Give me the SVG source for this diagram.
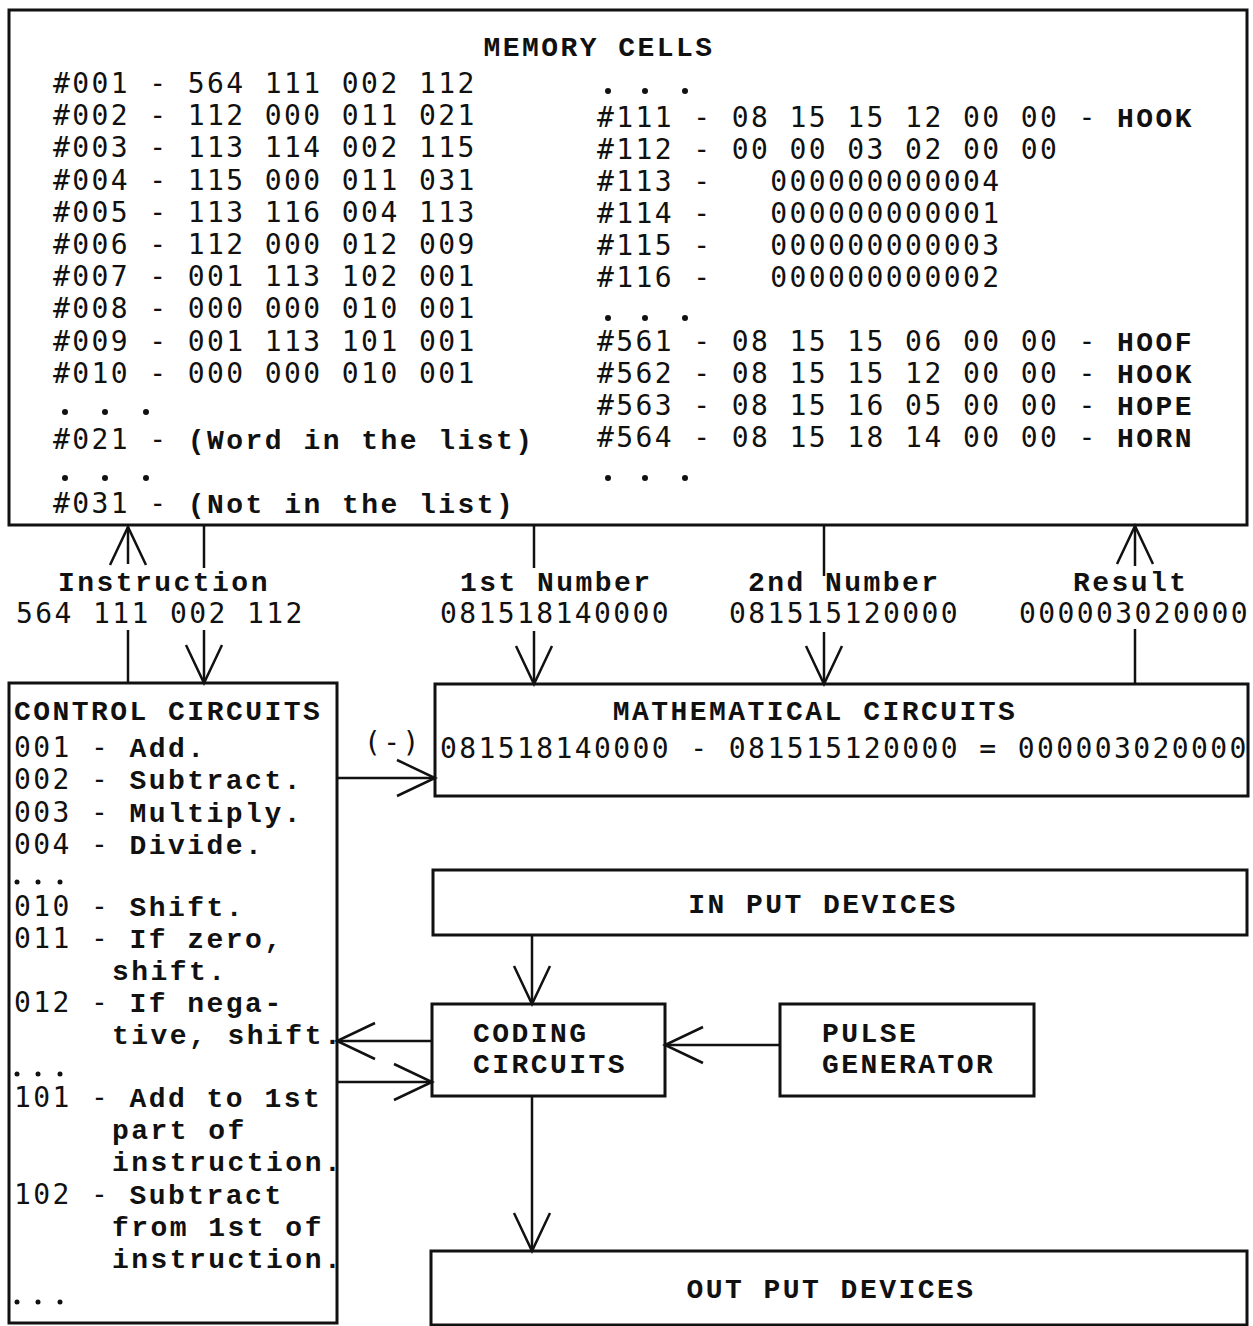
<svg xmlns="http://www.w3.org/2000/svg" width="1253" height="1326" viewBox="0 0 1253 1326">
<style>
.t{font-family:"DejaVu Sans Mono","Liberation Mono",monospace;font-size:28px;letter-spacing:2.4px;fill:#111;white-space:pre}
.b{font-family:"Liberation Mono","DejaVu Sans Mono",monospace;font-size:28px;letter-spacing:2.46px;font-weight:bold;fill:#111;white-space:pre}
.box{fill:#fff;stroke:#111;stroke-width:3}
.ln{stroke:#111;stroke-width:2.5;fill:none}
.dot{fill:#111}
</style>
<defs>
<marker id="ah" markerUnits="userSpaceOnUse" markerWidth="44" markerHeight="44" refX="38" refY="18" orient="auto" overflow="visible">
<path d="M0,0 L38,18 L0,36" fill="none" stroke="#111" stroke-width="2.5"/>
</marker>
<clipPath id="mclip"><rect x="435" y="684" width="813" height="112"/></clipPath>
</defs>
<rect width="1253" height="1326" fill="#fff"/>

<g id="memory">
<rect class="box" x="9" y="10" width="1238" height="515"/>
<text class="b" x="599" y="56" text-anchor="middle">MEMORY CELLS</text>
<text class="t" x="53" y="93">#001 - 564 111 002 112</text>
<text class="t" x="53" y="125">#002 - 112 000 011 021</text>
<text class="t" x="53" y="157">#003 - 113 114 002 115</text>
<text class="t" x="53" y="190">#004 - 115 000 011 031</text>
<text class="t" x="53" y="222">#005 - 113 116 004 113</text>
<text class="t" x="53" y="254">#006 - 112 000 012 009</text>
<text class="t" x="53" y="286">#007 - 001 113 102 001</text>
<text class="t" x="53" y="318">#008 - 000 000 010 001</text>
<text class="t" x="53" y="351">#009 - 001 113 101 001</text>
<text class="t" x="53" y="383">#010 - 000 000 010 001</text>
<circle class="dot" cx="65" cy="412" r="3"/><circle class="dot" cx="105" cy="412" r="3"/><circle class="dot" cx="146" cy="412" r="3"/>
<text class="t" x="53" y="449">#021 - <tspan class="b">(Word in the list)</tspan></text>
<circle class="dot" cx="65" cy="478" r="3"/><circle class="dot" cx="105" cy="478" r="3"/><circle class="dot" cx="146" cy="478" r="3"/>
<text class="t" x="53" y="513">#031 - <tspan class="b">(Not in the list)</tspan></text>

<circle class="dot" cx="608" cy="91" r="3"/><circle class="dot" cx="645" cy="91" r="3"/><circle class="dot" cx="685" cy="91" r="3"/>
<text class="t" x="597" y="127">#111 - 08 15 15 12 00 00 - <tspan class="b">HOOK</tspan></text>
<text class="t" x="597" y="159">#112 - 00 00 03 02 00 00</text>
<text class="t" x="597" y="191">#113 -   000000000004</text>
<text class="t" x="597" y="223">#114 -   000000000001</text>
<text class="t" x="597" y="255">#115 -   000000000003</text>
<text class="t" x="597" y="287">#116 -   000000000002</text>
<circle class="dot" cx="608" cy="318" r="3"/><circle class="dot" cx="645" cy="318" r="3"/><circle class="dot" cx="685" cy="318" r="3"/>
<text class="t" x="597" y="351">#561 - 08 15 15 06 00 00 - <tspan class="b">HOOF</tspan></text>
<text class="t" x="597" y="383">#562 - 08 15 15 12 00 00 - <tspan class="b">HOOK</tspan></text>
<text class="t" x="597" y="415">#563 - 08 15 16 05 00 00 - <tspan class="b">HOPE</tspan></text>
<text class="t" x="597" y="447">#564 - 08 15 18 14 00 00 - <tspan class="b">HORN</tspan></text>
<circle class="dot" cx="608" cy="478" r="3"/><circle class="dot" cx="645" cy="478" r="3"/><circle class="dot" cx="685" cy="478" r="3"/>
</g>

<g id="labels">
<text class="b" x="58" y="591">Instruction</text>
<text class="t" x="16" y="623">564 111 002 112</text>
<text class="b" x="460" y="591">1st Number</text>
<text class="t" x="440" y="623">081518140000</text>
<text class="b" x="748" y="591">2nd Number</text>
<text class="t" x="729" y="623">081515120000</text>
<text class="b" x="1073" y="591">Result</text>
<text class="t" x="1019" y="623">000003020000</text>
<text class="t" x="364" y="752">(-)</text>
</g>

<g id="control">
<rect class="box" x="9" y="683" width="328" height="640"/>
<text class="b" x="14" y="720">CONTROL CIRCUITS</text>
<text class="t" x="14" y="757">001 - <tspan class="b">Add.</tspan></text>
<text class="t" x="14" y="789">002 - <tspan class="b">Subtract.</tspan></text>
<text class="t" x="14" y="822">003 - <tspan class="b">Multiply.</tspan></text>
<text class="t" x="14" y="854">004 - <tspan class="b">Divide.</tspan></text>
<circle class="dot" cx="17" cy="882" r="2.5"/><circle class="dot" cx="38" cy="882" r="2.5"/><circle class="dot" cx="60" cy="882" r="2.5"/>
<text class="t" x="14" y="916">010 - <tspan class="b">Shift.</tspan></text>
<text class="t" x="14" y="948">011 - <tspan class="b">If zero,</tspan></text>
<text class="b" x="112" y="980">shift.</text>
<text class="t" x="14" y="1012">012 - <tspan class="b">If nega-</tspan></text>
<text class="b" x="112" y="1044">tive, shift.</text>
<circle class="dot" cx="17" cy="1074" r="2.5"/><circle class="dot" cx="38" cy="1074" r="2.5"/><circle class="dot" cx="60" cy="1074" r="2.5"/>
<text class="t" x="14" y="1107">101 - <tspan class="b">Add to 1st</tspan></text>
<text class="b" x="112" y="1139">part of</text>
<text class="b" x="112" y="1171">instruction.</text>
<text class="t" x="14" y="1204">102 - <tspan class="b">Subtract</tspan></text>
<text class="b" x="112" y="1236">from 1st of</text>
<text class="b" x="112" y="1268">instruction.</text>
<circle class="dot" cx="17" cy="1302" r="2.5"/><circle class="dot" cx="38" cy="1302" r="2.5"/><circle class="dot" cx="60" cy="1302" r="2.5"/>
</g>

<g id="math">
<rect class="box" x="435" y="684" width="813" height="112"/>
<text class="b" x="815" y="720" text-anchor="middle">MATHEMATICAL CIRCUITS</text>
<text class="t" x="440" y="758" clip-path="url(#mclip)">081518140000 - 081515120000 = 000003020000</text>
</g>

<g id="input">
<rect class="box" x="433" y="870" width="814" height="65"/>
<text class="b" x="823" y="913" text-anchor="middle">IN PUT DEVICES</text>
</g>

<g id="coding">
<rect class="box" x="432" y="1004" width="233" height="92"/>
<text class="b" x="473" y="1042">CODING</text>
<text class="b" x="473" y="1073">CIRCUITS</text>
</g>

<g id="pulse">
<rect class="box" x="780" y="1004" width="254" height="92"/>
<text class="b" x="822" y="1042">PULSE</text>
<text class="b" x="822" y="1073">GENERATOR</text>
</g>

<g id="output">
<rect class="box" x="431" y="1251" width="816" height="74"/>
<text class="b" x="831" y="1298" text-anchor="middle">OUT PUT DEVICES</text>
</g>

<g id="connectors">
<line class="ln" x1="128" y1="683" x2="128" y2="630"/>
<line class="ln" x1="128" y1="564" x2="128" y2="527" marker-end="url(#ah)"/>
<line class="ln" x1="204" y1="525" x2="204" y2="568"/>
<line class="ln" x1="204" y1="630" x2="204" y2="683" marker-end="url(#ah)"/>
<line class="ln" x1="534" y1="525" x2="534" y2="568"/>
<line class="ln" x1="534" y1="631" x2="534" y2="684" marker-end="url(#ah)"/>
<line class="ln" x1="824" y1="525" x2="824" y2="576"/>
<line class="ln" x1="824" y1="632" x2="824" y2="684" marker-end="url(#ah)"/>
<line class="ln" x1="1135" y1="684" x2="1135" y2="629"/>
<line class="ln" x1="1135" y1="566" x2="1135" y2="526" marker-end="url(#ah)"/>
<line class="ln" x1="337" y1="778" x2="435" y2="778" marker-end="url(#ah)"/>
<line class="ln" x1="532" y1="935" x2="532" y2="1004" marker-end="url(#ah)"/>
<line class="ln" x1="780" y1="1045" x2="665" y2="1045" marker-end="url(#ah)"/>
<line class="ln" x1="432" y1="1041" x2="337" y2="1041" marker-end="url(#ah)"/>
<line class="ln" x1="337" y1="1082" x2="432" y2="1082" marker-end="url(#ah)"/>
<line class="ln" x1="532" y1="1096" x2="532" y2="1251" marker-end="url(#ah)"/>
</g>
</svg>
